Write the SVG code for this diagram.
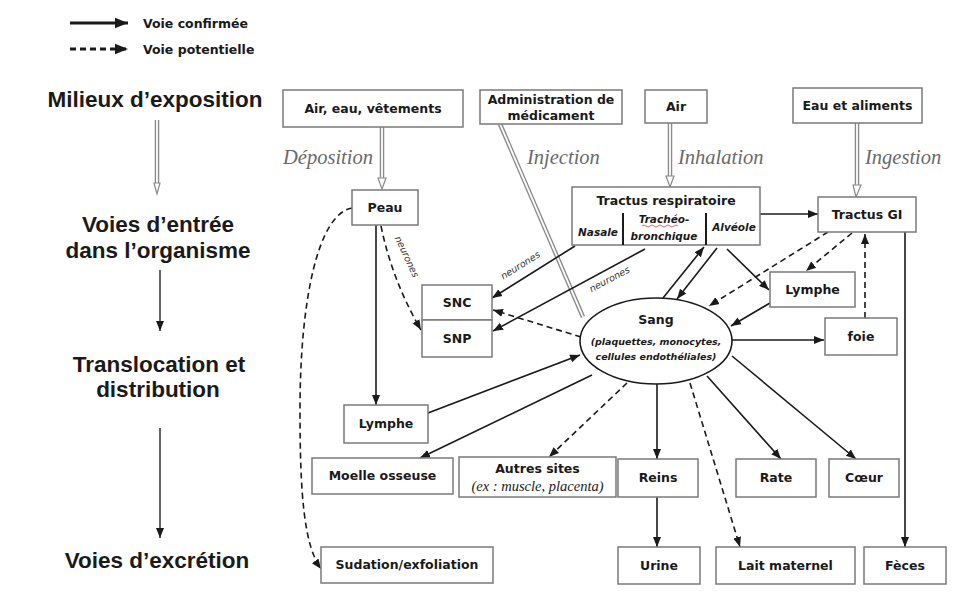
<svg xmlns="http://www.w3.org/2000/svg" width="979" height="594" viewBox="0 0 979 594">
<style>
.box{fill:#fff;stroke:#7a7a7a;stroke-width:1.5}
.t{font-family:"DejaVu Sans",Verdana,sans-serif;font-weight:bold;font-size:12.5px;fill:#1a1a1a;text-anchor:middle}
.ti{font-family:"DejaVu Sans",Verdana,sans-serif;font-weight:bold;font-style:italic;font-size:10.5px;fill:#1a1a1a;text-anchor:middle}
.stage{font-family:"Liberation Sans",Arial,sans-serif;font-weight:bold;font-size:22.5px;fill:#1a1a1a;text-anchor:middle}
.route{font-family:"Liberation Serif","Times New Roman",serif;font-style:italic;font-size:20.5px;fill:#6a6a6a}
.neu{font-family:"DejaVu Sans",Verdana,sans-serif;font-style:italic;font-size:9.5px;fill:#333;text-anchor:middle}
.serif-i{font-family:"Liberation Serif","Times New Roman",serif;font-style:italic;font-size:14.5px;fill:#1a1a1a;text-anchor:middle}
.leg{font-family:"DejaVu Sans",Verdana,sans-serif;font-weight:bold;font-size:12.5px;fill:#1a1a1a}
.c{fill:none;stroke:#1a1a1a;stroke-width:1.6;marker-end:url(#ah)}
.d{fill:none;stroke:#1a1a1a;stroke-width:1.6;stroke-dasharray:6 4;marker-end:url(#ah)}
.dbo{fill:none;stroke:#8a8a8a;stroke-width:4.5}
.dbi{fill:none;stroke:#fff;stroke-width:1.8}
.hollow{fill:#fff;stroke:#8a8a8a;stroke-width:1.2}
</style>
<defs>
<marker id="ah" viewBox="0 0 10 10" refX="10" refY="5" markerWidth="10" markerHeight="10" markerUnits="userSpaceOnUse" orient="auto">
<path d="M0,1 L10,5 L0,9 z" fill="#1a1a1a"/>
</marker>
<marker id="ahL" viewBox="0 0 10 10" refX="10" refY="5" markerWidth="13" markerHeight="13" markerUnits="userSpaceOnUse" orient="auto">
<path d="M0,1 L10,5 L0,9 z" fill="#1a1a1a"/>
</marker>
</defs>
<rect width="979" height="594" fill="#fff"/>

<g id="legend">
<line x1="70" y1="23" x2="128" y2="23" stroke="#1a1a1a" stroke-width="3" marker-end="url(#ahL)"/>
<text class="leg" x="143" y="28">Voie confirmée</text>
<line x1="70" y1="49" x2="128" y2="49" stroke="#1a1a1a" stroke-width="3" stroke-dasharray="6 4" marker-end="url(#ahL)"/>
<text class="leg" x="143" y="54">Voie potentielle</text>
</g>

<g id="stages">
<text class="stage" x="155" y="107">Milieux d’exposition</text>
<text class="stage" x="158" y="232">Voies d’entrée</text>
<text class="stage" x="158" y="258">dans l’organisme</text>
<text class="stage" x="159" y="372">Translocation et</text>
<text class="stage" x="158" y="397">distribution</text>
<text class="stage" x="157" y="568">Voies d’excrétion</text>
<path class="dbo" d="M157,120 V186"/><path class="dbi" d="M157,120 V186"/>
<polygon class="hollow" points="154,183 160,183 157,194"/>
<line x1="160" y1="270" x2="160" y2="331" stroke="#333" stroke-width="1.5" marker-end="url(#ah)"/>
<line x1="160" y1="428" x2="160" y2="538" stroke="#333" stroke-width="1.5" marker-end="url(#ah)"/>
</g>

<g id="route-labels">
<text class="route" x="283" y="164">Déposition</text>
<text class="route" x="527" y="164">Injection</text>
<text class="route" x="678" y="164">Inhalation</text>
<text class="route" x="865" y="164">Ingestion</text>
</g>

<g id="connectors">
<path class="dbo" d="M382,127 V180"/><path class="dbi" d="M382,127 V180"/>
<polygon class="hollow" points="378,178 386,178 382,189"/>
<path class="dbo" d="M500,124 L583,317"/><path class="dbi" d="M500,124 L583,317"/>
<path class="dbo" d="M670,123 V178"/><path class="dbi" d="M670,123 V178"/>
<polygon class="hollow" points="666,176 674,176 670,187"/>
<path class="dbo" d="M857,123 V186"/><path class="dbi" d="M857,123 V186"/>
<polygon class="hollow" points="853,185 861,185 856,197"/>

<path class="c" d="M376,225 V405"/>
<path class="d" d="M381,226 Q392,280 421,330"/>
<path class="d" d="M352,208 C318,214 300,300 300,410 C300,495 304,545 321,569"/>
<path class="c" d="M575,246 L492,298"/>
<path class="c" d="M645,249 L493,331"/>
<path class="c" d="M663,298 L704,247"/>
<path class="c" d="M717,248 L677,299"/>
<path class="c" d="M727,249 L769,290"/>
<path class="c" d="M760,214 L818,214"/>
<path class="d" d="M828,232 L709,306"/>
<path class="d" d="M852,233 L806,271"/>
<path class="d" d="M865,318 L865,234"/>
<path class="c" d="M770,303 L731,326"/>
<path class="c" d="M732,340 L824,340"/>
<path class="d" d="M581,337 L493,310"/>
<path class="c" d="M428,413 L580,355"/>
<path class="c" d="M592,375 L420,458"/>
<path class="d" d="M627,383 L549,457"/>
<path class="c" d="M657,384 V459"/>
<path class="d" d="M690,383 L740,547"/>
<path class="c" d="M707,376 L781,459"/>
<path class="c" d="M732,356 L856,459"/>
<path class="c" d="M657,497 V547"/>
<path class="c" d="M905,232 V547"/>

<text class="neu" transform="translate(522,268) rotate(-32)">neurones</text>
<text class="neu" transform="translate(611,282) rotate(-28)">neurones</text>
<text class="neu" transform="translate(404,258) rotate(65)">neurones</text>
</g>

<g id="n-air-eau"><rect class="box" x="283" y="90" width="180" height="37"/><text class="t" x="373" y="113">Air, eau, vêtements</text></g>
<g id="n-admin"><rect class="box" x="480" y="90" width="142" height="34"/><text class="t" x="551" y="104">Administration de</text><text class="t" x="551" y="120">médicament</text></g>
<g id="n-air"><rect class="box" x="645" y="90" width="62" height="33"/><text class="t" x="676" y="111">Air</text></g>
<g id="n-eau-aliments"><rect class="box" x="793" y="88" width="129" height="35"/><text class="t" x="857.5" y="110">Eau et aliments</text></g>
<g id="n-peau"><rect class="box" x="352" y="190" width="66" height="35"/><text class="t" x="385" y="212">Peau</text></g>
<g id="n-tractus-resp"><rect class="box" x="572" y="187" width="188" height="58"/>
<text class="t" x="666" y="205">Tractus respiratoire</text>
<line x1="623" y1="213" x2="623" y2="245" stroke="#1a1a1a" stroke-width="2"/>
<line x1="706" y1="213" x2="706" y2="245" stroke="#1a1a1a" stroke-width="2"/>
<text class="ti" x="598" y="236">Nasale</text>
<text class="ti" x="664" y="223">Trachéo-</text>
<path d="M642,226 q2,-2 4,0 t4,0 t4,0 t4,0 t4,0 t4,0 t4,0 t4,0 t4,0" fill="none" stroke="#d04040" stroke-width="0.8"/>
<text class="ti" x="664" y="240">bronchique</text>
<text class="ti" x="734" y="231">Alvéole</text>
</g>
<g id="n-tractus-gi"><rect class="box" x="818" y="197" width="98" height="35"/><text class="t" x="867" y="219">Tractus GI</text></g>
<g id="n-snc"><rect class="box" x="422" y="285" width="70" height="35"/><text class="t" x="457" y="307">SNC</text></g>
<g id="n-snp"><rect class="box" x="422" y="320" width="70" height="37"/><text class="t" x="457" y="343">SNP</text></g>
<g id="n-sang"><ellipse cx="656" cy="341" rx="76" ry="43" fill="#fff" stroke="#1a1a1a" stroke-width="1.6"/>
<text class="t" x="656" y="324">Sang</text>
<text class="ti" x="656" y="345" style="font-size:9.5px">(plaquettes, monocytes,</text>
<text class="ti" x="656" y="360" style="font-size:9.5px">cellules endothéliales)</text>
</g>
<g id="n-lymphe-r"><rect class="box" x="770" y="272" width="85" height="35"/><text class="t" x="812.5" y="294">Lymphe</text></g>
<g id="n-foie"><rect class="box" x="825" y="318" width="72" height="37"/><text class="t" x="861" y="341">foie</text></g>
<g id="n-lymphe-l"><rect class="box" x="344" y="405" width="84" height="38"/><text class="t" x="386" y="428">Lymphe</text></g>
<g id="n-moelle"><rect class="box" x="312" y="458" width="141" height="36"/><text class="t" x="382.5" y="480">Moelle osseuse</text></g>
<g id="n-autres"><rect class="box" x="459" y="457" width="157" height="40"/><text class="t" x="537.5" y="473">Autres sites</text><text class="serif-i" x="537.5" y="491">(ex : muscle, placenta)</text></g>
<g id="n-reins"><rect class="box" x="618" y="459" width="80" height="38"/><text class="t" x="658" y="482">Reins</text></g>
<g id="n-rate"><rect class="box" x="736" y="459" width="80" height="38"/><text class="t" x="776" y="482">Rate</text></g>
<g id="n-coeur"><rect class="box" x="829" y="459" width="70" height="38"/><text class="t" x="864" y="482">Cœur</text></g>
<g id="n-sudation"><rect class="box" x="321" y="547" width="172" height="36"/><text class="t" x="407" y="569">Sudation/exfoliation</text></g>
<g id="n-urine"><rect class="box" x="618" y="547" width="82" height="37"/><text class="t" x="659" y="570">Urine</text></g>
<g id="n-lait"><rect class="box" x="716" y="547" width="139" height="37"/><text class="t" x="785.5" y="570">Lait maternel</text></g>
<g id="n-feces"><rect class="box" x="864" y="547" width="82" height="37"/><text class="t" x="905" y="570">Fèces</text></g>
</svg>
